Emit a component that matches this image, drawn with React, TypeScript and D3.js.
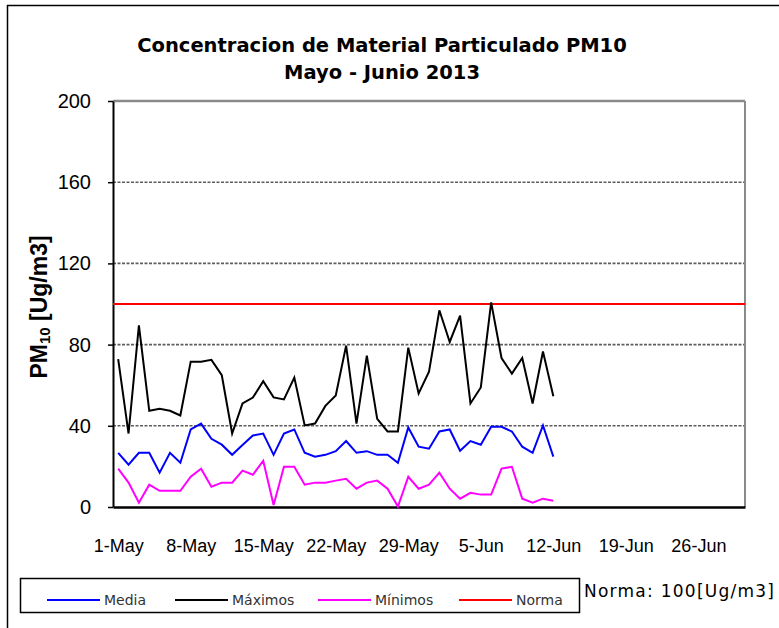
import { useEffect, useRef } from "react";
import * as d3 from "d3";

// daily values, 1-May-2013 .. 12-Jun-2013
const media = [
  26.7, 20.8, 26.7, 26.7, 16.9, 26.7, 21.8, 38.2, 41.1, 33.6, 30.7, 25.7, 30.5, 35.2, 36.2, 25.7,
  36.2, 38.2, 26.7, 24.8, 25.7, 27.5, 32.5, 26.7, 27.5, 25.7, 25.7, 21.8, 39.2, 29.7, 28.7, 37.2,
  38.2, 27.7, 32.5, 30.7, 39.5, 39.5, 37.2, 29.7, 26.7, 40.2, 24.8,
];
const maximos = [
  72.8, 36.2, 89.5, 47.4, 48.4, 47.4, 45.1, 71.6, 71.6, 72.5, 64.9, 36.2, 51, 53.9, 62, 54,
  53, 63.8, 40.2, 41.1, 49.8, 54.9, 79.5, 41.1, 74.6, 43.4, 37.2, 37.2, 78.5, 55.9, 66.7, 96.9,
  81.3, 94.3, 51, 58.9, 100.8, 73.4, 65.7, 73.4, 51, 76.6, 54.6,
];
const minimos = [
  18.9, 12, 2.1, 11, 8, 8, 8, 14.9, 18.9, 10, 12, 12, 17.9, 15.9, 22.8, 1, 19.8, 19.8, 11, 12, 12,
  13, 13.9, 9, 12, 13, 9, 0.2, 14.9, 9, 11, 16.9, 9, 4.1, 7, 6.1, 6.1, 18.9, 19.8, 4.1, 2.1, 4.1,
  3.1,
];
const norma = 100;
const yTicks = [0, 40, 80, 120, 160, 200];
const xTickLabels = ["1-May", "8-May", "15-May", "22-May", "29-May", "5-Jun", "12-Jun", "19-Jun", "26-Jun"];

const series = [
  { name: "Media", values: media, color: "#0000ff" },
  { name: "Máximos", values: maximos, color: "#000000" },
  { name: "Mínimos", values: minimos, color: "#ff00ff" },
];

const W = 779;
const H = 628;
const left = 113;
const right = 745;
const top = 101;
const bottom = 507;

export default function App() {
  const ref = useRef<SVGSVGElement>(null);

  useEffect(() => {
    const svg = d3.select(ref.current);
    svg.selectAll("*").remove();

    const start = new Date(2013, 4, 1);
    const dates = media.map((_, i) => d3.timeDay.offset(start, i));

    const x = d3
      .scaleTime()
      .domain([new Date(2013, 3, 30, 12), new Date(2013, 5, 30, 12)])
      .range([left, right]);
    const y = d3.scaleLinear().domain([0, 200]).range([bottom, top]);

    // outer chart frame (only top/left visible in the crop)
    svg.append("line").attr("x1", 7).attr("x2", W).attr("y1", 5.5).attr("y2", 5.5).attr("stroke", "#000").attr("stroke-width", 1.5);
    svg.append("line").attr("x1", 7.5).attr("x2", 7.5).attr("y1", 5).attr("y2", H).attr("stroke", "#000").attr("stroke-width", 1.5);

    // title
    const title = svg
      .append("text")
      .attr("text-anchor", "middle")
      .attr("font-family", "DejaVu Sans, sans-serif")
      .attr("font-weight", "bold")
      .attr("font-size", 19.5)
      .attr("fill", "#000");
    title.append("tspan").attr("x", 382).attr("y", 52).text("Concentracion de Material Particulado PM10");
    title.append("tspan").attr("x", 382).attr("y", 79).text("Mayo - Junio 2013");

    // gridlines
    svg
      .append("g")
      .selectAll("line")
      .data(yTicks.filter((t) => t > 0 && t < 200))
      .join("line")
      .attr("x1", left)
      .attr("x2", right)
      .attr("y1", (d) => y(d))
      .attr("y2", (d) => y(d))
      .attr("stroke", "#5e5e5e")
      .attr("stroke-width", 1.6)
      .attr("stroke-dasharray", "3,1.5");

    // plot frame top/right
    svg.append("line").attr("x1", left).attr("x2", right).attr("y1", y(200)).attr("y2", y(200)).attr("stroke", "#8a8a8a").attr("stroke-width", 2.5);
    svg.append("line").attr("x1", right).attr("x2", right).attr("y1", y(200)).attr("y2", bottom).attr("stroke", "#8a8a8a").attr("stroke-width", 2);

    // y axis
    const yAxis = svg
      .append("g")
      .attr("transform", `translate(${left},0)`)
      .call(d3.axisLeft(y).tickValues(yTicks).tickSize(5).tickSizeOuter(0).tickPadding(17));
    yAxis.select(".domain").attr("stroke", "#000").attr("stroke-width", 2);
    yAxis.selectAll(".tick line").attr("stroke", "#000").attr("stroke-width", 1.5);
    yAxis
      .selectAll(".tick text")
      .attr("font-family", "Liberation Sans, Arial, sans-serif")
      .attr("font-size", 20)
      .attr("fill", "#000");

    // x axis
    const tickDates = xTickLabels.map((_, i) => d3.timeDay.offset(start, i * 7));
    const xAxis = svg
      .append("g")
      .attr("transform", `translate(0,${bottom})`)
      .call(
        d3
          .axisBottom(x)
          .tickValues(tickDates)
          .tickSize(0)
          .tickPadding(32)
          .tickFormat((_, i) => xTickLabels[i])
      );
    xAxis.select(".domain").attr("stroke", "#000").attr("stroke-width", 2.5);
    xAxis
      .selectAll(".tick text")
      .attr("font-family", "Liberation Sans Narrow, Liberation Sans, Arial, sans-serif")
      .attr("font-size", 18)
      .attr("fill", "#000");

    // norma line
    svg
      .append("line")
      .attr("x1", left)
      .attr("x2", right)
      .attr("y1", y(norma))
      .attr("y2", y(norma))
      .attr("stroke", "#ff0000")
      .attr("stroke-width", 2);

    const line = d3
      .line<number>()
      .x((_, i) => x(dates[i]))
      .y((d) => y(d));

    svg
      .append("g")
      .selectAll("path")
      .data(series)
      .join("path")
      .attr("d", (s) => line(s.values))
      .attr("fill", "none")
      .attr("stroke", (s) => s.color)
      .attr("stroke-width", 2)
      .attr("stroke-linejoin", "miter");

    // y title
    const yt = svg
      .append("text")
      .attr("transform", "translate(47,307) rotate(-90)")
      .attr("text-anchor", "middle")
      .attr("font-family", "Liberation Sans, Arial, sans-serif")
      .attr("font-weight", "bold")
      .attr("font-size", 23)
      .attr("fill", "#000");
    yt.append("tspan").text("PM");
    yt.append("tspan").attr("font-size", 15).attr("dy", 3).text("10");
    yt.append("tspan").attr("dy", -3).text(" [Ug/m3]");

    // legend
    const lg = svg.append("g");
    lg.append("rect")
      .attr("x", 20.5)
      .attr("y", 578.5)
      .attr("width", 559)
      .attr("height", 34)
      .attr("fill", "#fff")
      .attr("stroke", "#000")
      .attr("stroke-width", 1.5);
    const items = [
      ...series.map((s) => ({ name: s.name, color: s.color })),
      { name: "Norma", color: "#ff0000" },
    ];
    const itemX = [47, 175, 318, 459];
    items.forEach((it, i) => {
      const g = lg.append("g").attr("transform", `translate(${itemX[i]},600)`);
      g.append("line").attr("x1", 0).attr("x2", 53).attr("y1", 0).attr("y2", 0).attr("stroke", it.color).attr("stroke-width", 2);
      g.append("text")
        .attr("x", 57)
        .attr("y", 5)
        .attr("font-family", "DejaVu Sans, sans-serif")
        .attr("font-size", 14)
        .attr("fill", "#333")
        .text(it.name);
    });

    svg
      .append("text")
      .attr("x", 584)
      .attr("y", 597)
      .attr("font-family", "DejaVu Sans, sans-serif")
      .attr("font-size", 17)
      .attr("textLength", 190)
      .attr("lengthAdjust", "spacing")
      .attr("fill", "#000")
      .text("Norma: 100[Ug/m3]");
  }, []);

  return (
    <svg
      ref={ref}
      width={W}
      height={H}
      style={{ position: "absolute", left: 0, top: 0, background: "#fff" }}
    />
  );
}
